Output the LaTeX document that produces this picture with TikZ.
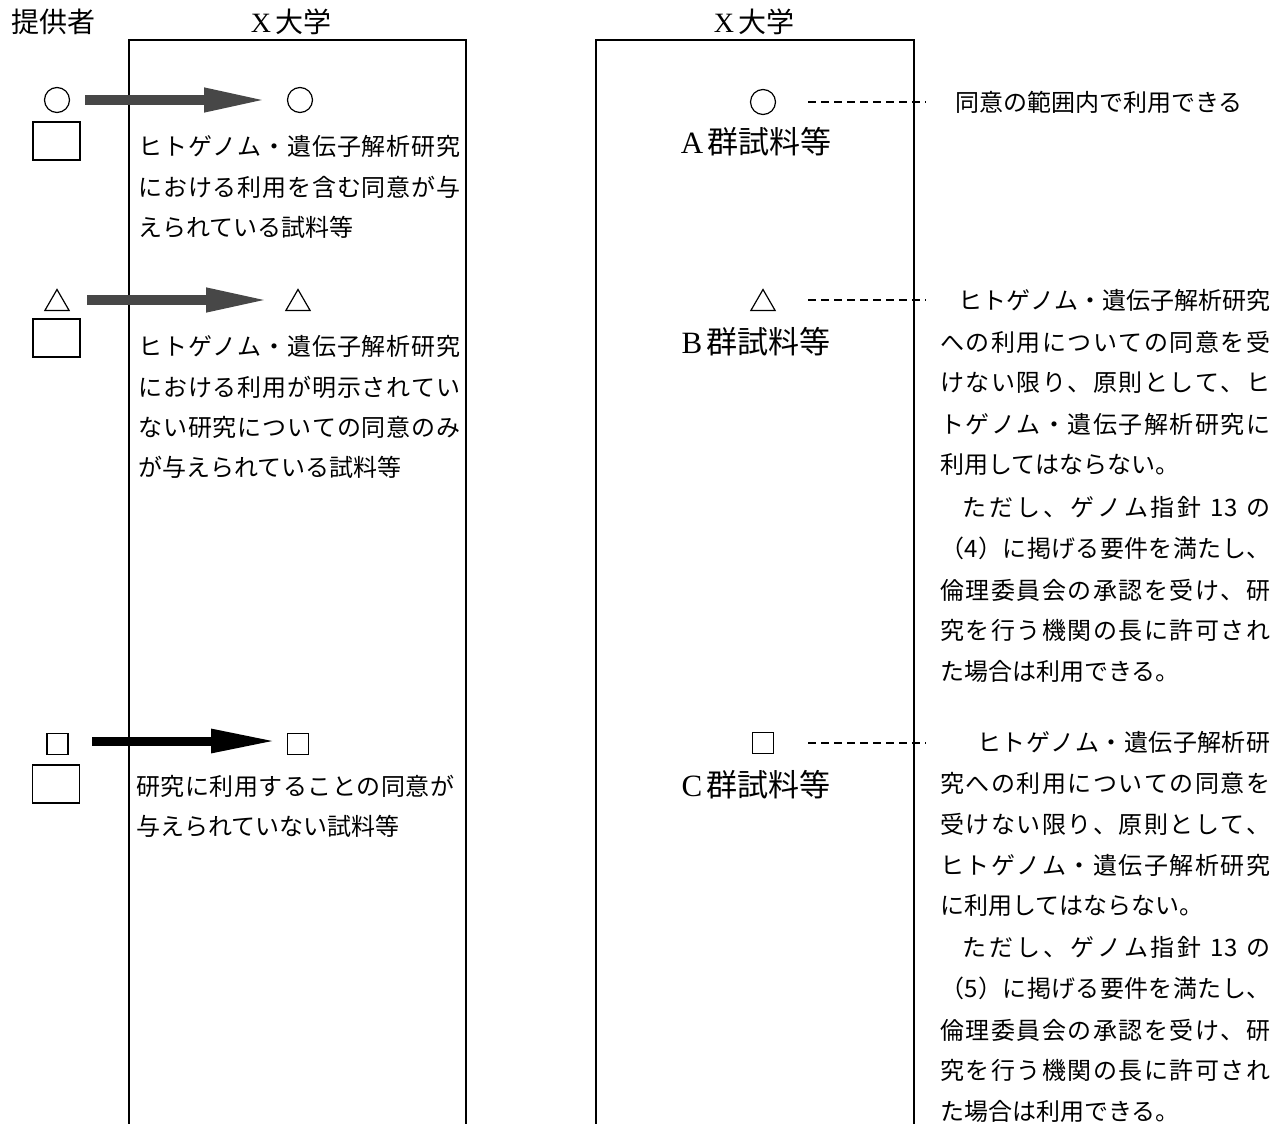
\documentclass[tikz,border=0pt]{standalone}
\usepackage{fontspec}
\setmainfont{Noto Sans CJK JP}
\newfontfamily\lat{Liberation Serif}
\usetikzlibrary{arrows.meta,shapes.geometric}
\ExplSyntaxOn
\NewDocumentCommand\spr{mm}{\makebox[#1][s]{\tl_map_inline:nn{#2}{##1\hfil}\unskip}}
\ExplSyntaxOff
\begin{document}
\begin{tikzpicture}[x=0.5pt,y=-0.5pt,
  body/.style={font=\fontsize{12pt}{14pt}\selectfont, inner sep=0pt, anchor=west},
  headtxt/.style={font=\fontsize{14pt}{16pt}\selectfont, inner sep=0pt},
  grp/.style={font=\fontsize{15.5pt}{18pt}\selectfont, inner sep=0pt},
  circ/.style={circle, draw, line width=0.6pt, minimum size=12.5pt, inner sep=0pt},
  tri/.style={regular polygon, regular polygon sides=3, draw, line width=0.6pt, minimum size=14pt, inner sep=0pt},
  sq/.style={rectangle, draw, line width=0.6pt, minimum size=10.5pt, inner sep=0pt},
  bigsq/.style={rectangle, draw, line width=0.8pt, minimum width=23.5pt, minimum height=19pt, inner sep=0pt},
  garrow/.style={line width=5pt, draw=black!72, -{Triangle[length=32pt,width=11pt]}},
  karrow/.style={line width=4.5pt, draw=black, -{Triangle[length=33pt,width=11pt]}},
  conn/.style={line width=0.8pt, dash pattern=on 4pt off 2.5pt},
  frame/.style={line width=1pt}]
\useasboundingbox (0,0) rectangle (1285,1124);

% headers
\node[headtxt] (hp) at (53,22) {提供者};
\node[headtxt] (hx1) at (291,22) {{\lat X}\hspace{2pt}大学};
\node[headtxt] (hx2) at (754,22) {{\lat X}\hspace{2pt}大学};

% frames
\draw[frame] (129,1124) -- (129,40) -- (466,40) -- (466,1124);
\draw[frame] (596,1124) -- (596,40) -- (914,40) -- (914,1124);

% ---- row 1
\node[circ] (p1) at (57,100) {};
\node[bigsq] (ps1) at (56.5,141) {};
\node[circ] (t1) at (300,100) {};
\draw[garrow] ([xshift=14pt]p1.center) -- ([xshift=-16pt]t1.center);
\node[body] (l11) at (138,146) {\spr{161pt}{ヒトゲノム・遺伝子解析研究}};
\node[body] (l12) at (138,187) {\spr{161pt}{における利用を含む同意が与}};
\node[body] (l13) at (138,227) {えられている試料等};

% ---- row 2
\node[tri] (p2) at (57,303.5) {};
\node[bigsq] (ps2) at (56.5,338) {};
\node[tri] (t2) at (298,303.5) {};
\draw[garrow] ([xshift=15pt,yshift=1.75pt]p2.center) -- ([xshift=-14pt,yshift=1.75pt]t2.center);
\node[body] (l21) at (138,346) {\spr{161pt}{ヒトゲノム・遺伝子解析研究}};
\node[body] (l22) at (138,387) {\spr{161pt}{における利用が明示されてい}};
\node[body] (l23) at (138,427) {\spr{161pt}{ない研究についての同意のみ}};
\node[body] (l24) at (138,467) {が与えられている試料等};

% ---- row 3
\node[sq] (p3) at (57.5,744) {};
\node[bigsq] (ps3) at (56,784) {};
\node[sq] (t3) at (298,744) {};
\draw[karrow] ([xshift=17.25pt,yshift=1.5pt]p3.center) -- ([xshift=-10.5pt,yshift=1.5pt]t3.center);
\node[body] (l31) at (136,786) {\spr{159pt}{研究に利用することの同意が}};
\node[body] (l32) at (136,826) {与えられていない試料等};

% ---- right column
\node[circ] (r1) at (763,102) {};
\node[grp] (gA) at (756,142) {{\lat A}\hspace{2pt}群試料等};
\node[tri] (r2) at (763,303.5) {};
\node[grp] (gB) at (756,342) {{\lat B}\hspace{2pt}群試料等};
\node[sq] (r3) at (763,743) {};
\node[grp] (gC) at (756,785) {{\lat C}\hspace{2pt}群試料等};

\coordinate (eA) at (926,102);
\coordinate (eB) at (926,300);
\coordinate (eC) at (926,743);
\draw[conn] ([xshift=22.5pt]r1.center) -- (eA);
\draw[conn] ([xshift=22.5pt,yshift=1.75pt]r2.center) -- (eB);
\draw[conn] ([xshift=22.5pt]r3.center) -- (eC);

% A text
\node[body] (ta) at (955,102) {同意の範囲内で利用できる};

% B text
\node[body] (b1) at (958,300) {\spr{156pt}{ヒトゲノム・遺伝子解析研究}};
\node[body] (b2) at (940,342) {\spr{165pt}{への利用についての同意を受}};
\node[body] (b3) at (940,383) {\spr{165pt}{けない限り、原則として、ヒ}};
\node[body] (b4) at (940,424) {\spr{165pt}{トゲノム・遺伝子解析研究に}};
\node[body] (b5) at (940,465) {利用してはならない。};
\node[body] (b6) at (962,507) {\spr{154pt}{ただし、ゲノム指針{\hspace{3pt}13\hspace{3pt}}の}};
\node[body] (b7) at (940,548) {\spr{165pt}{（4）に掲げる要件を満たし、}};
\node[body] (b8) at (940,590) {\spr{165pt}{倫理委員会の承認を受け、研}};
\node[body] (b9) at (940,630) {\spr{165pt}{究を行う機関の長に許可され}};
\node[body] (b10) at (940,671) {た場合は利用できる。};

% C text
\node[body] (c1) at (977,742) {\spr{146.5pt}{ヒトゲノム・遺伝子解析研}};
\node[body] (c2) at (940,783) {\spr{165pt}{究への利用についての同意を}};
\node[body] (c3) at (940,824) {\spr{165pt}{受けない限り、原則として、}};
\node[body] (c4) at (940,865) {\spr{165pt}{ヒトゲノム・遺伝子解析研究}};
\node[body] (c5) at (940,906) {に利用してはならない。};
\node[body] (c6) at (962,947) {\spr{154pt}{ただし、ゲノム指針{\hspace{3pt}13\hspace{3pt}}の}};
\node[body] (c7) at (940,988) {\spr{165pt}{（5）に掲げる要件を満たし、}};
\node[body] (c8) at (940,1030) {\spr{165pt}{倫理委員会の承認を受け、研}};
\node[body] (c9) at (940,1070) {\spr{165pt}{究を行う機関の長に許可され}};
\node[body] (c10) at (940,1111) {た場合は利用できる。};
\end{tikzpicture}
\end{document}
